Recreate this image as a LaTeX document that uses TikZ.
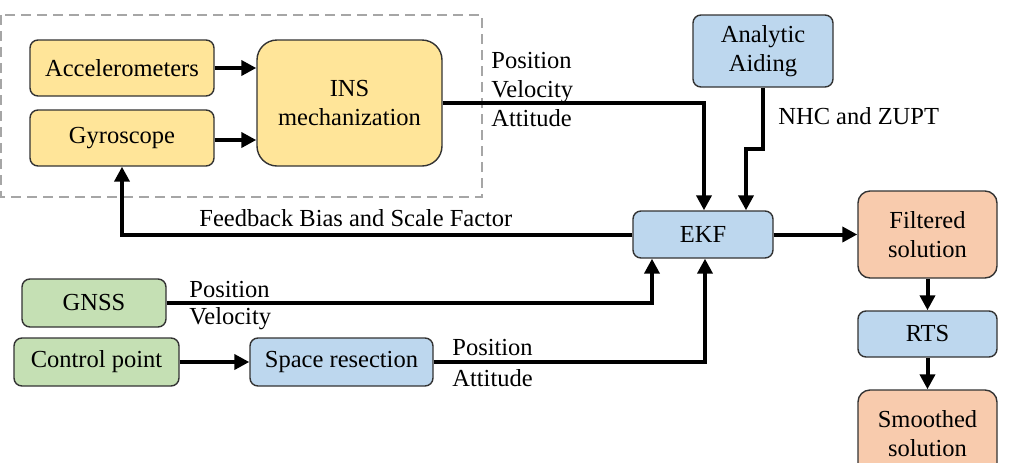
\documentclass[tikz,border=0pt]{standalone}
\usepackage{fontspec}
\setmainfont{Liberation Serif}
\usepackage{tikz}
\usetikzlibrary{arrows.meta, positioning}
\definecolor{insyellow}{RGB}{255,229,153}
\definecolor{ekfblue}{RGB}{189,215,238}
\definecolor{gnssgreen}{RGB}{197,224,180}
\definecolor{solorange}{RGB}{248,203,173}
\newcommand{\blocksize}{\fontsize{12.25pt}{14.5pt}\selectfont}

\begin{document}
\begin{tikzpicture}[x = 0.5pt, y = -0.5pt,
    block/.style = {draw = black!80, line width = 0.7pt, rounded corners = 4pt,
        align = center, inner sep = 0pt, font = \blocksize},
    arr/.style = {line width = 2pt, -{Triangle[length = 7.5pt, width = 7.5pt]}},
    lbl/.style = {anchor = west, inner sep = 0pt, align = left, font = \blocksize}]
    \useasboundingbox (0,0) rectangle (1019,462);
    % Parte inerziale
    \draw[gray!70, line width = 1pt, dash pattern = on 5pt off 3pt] (1,15) rectangle (482,197);
    \node[block, fill = insyellow, minimum width = 92pt, minimum height = 28pt] (acc) at (122,68) {Accelerometers};
    \node[block, fill = insyellow, minimum width = 92pt, minimum height = 28pt] (gyro) at (122,138) {Gyroscope};
    \node[block, fill = insyellow, rounded corners = 10pt, minimum width = 92.5pt, minimum height = 63pt] (ins) at (349.5,103) {INS\\mechanization};
    \draw[arr] (acc.east) -- (acc.east -| ins.west);
    \draw[arr] ([yshift = -1pt]gyro.east) -- ([yshift = -1pt]gyro.east -| ins.west);
    % Filtro
    \node[block, fill = ekfblue, minimum width = 70pt, minimum height = 36pt] (aid) at (763,51) {Analytic\\Aiding};
    \node[block, fill = ekfblue, minimum width = 70pt, minimum height = 23.5pt] (ekf) at (703,234.5) {EKF};
    \node[block, fill = solorange, rounded corners = 6pt, minimum width = 69.5pt, minimum height = 43.5pt] (filt) at (927.5,234.5) {Filtered\\solution};
    \node[block, fill = ekfblue, minimum width = 69.5pt, minimum height = 23pt] (rts) at (927.5,334) {RTS};
    \node[block, fill = solorange, rounded corners = 6pt, minimum width = 69.5pt, minimum height = 43.5pt] (smooth) at (927.5,433.5) {Smoothed\\solution};
    % Sensori esterni
    \node[block, fill = gnssgreen, minimum width = 72pt, minimum height = 24pt] (gnss) at (94,303) {GNSS};
    \node[block, fill = gnssgreen, minimum width = 82.5pt, minimum height = 24pt] (ctrl) at (96.5,362) {Control point};
    \node[block, fill = ekfblue, minimum width = 91.5pt, minimum height = 24pt] (sr) at (341.5,362) {Space resection};
    % Collegamenti
    \draw[arr] (ins.east) -| ([xshift = 0.5pt]ekf.north);
    \draw[arr] (aid.south) -- ++(0,61) -| ([xshift = 21.5pt]ekf.north);
    \draw[arr] (ekf.west) -| (gyro.south);
    \draw[arr] (gnss.east) -| ([xshift = -25.5pt]ekf.south);
    \draw[arr] (ctrl.east) -- (sr.west);
    \draw[arr] (sr.east) -| ([xshift = 1pt]ekf.south);
    \draw[arr] (ekf.east) -- (filt.west);
    \draw[arr] (filt.south) -- (rts.north);
    \draw[arr] (rts.south) -- (smooth.north);
    % Etichette
    \node[lbl] (insout) at (491,90) {Position\\Velocity\\Attitude};
    \node[lbl] (nhc) at (778,116) {NHC and ZUPT};
    \node[lbl] (fb) at (199,218) {Feedback Bias and Scale Factor};
    \node[lbl] (gnsspos) at (189,290) {Position};
    \node[lbl] (gnssvel) at (189,319) {Velocity};
    \node[lbl] (srpos) at (452,348) {Position};
    \node[lbl] (sratt) at (452,378) {Attitude};
\end{tikzpicture}
\end{document}
